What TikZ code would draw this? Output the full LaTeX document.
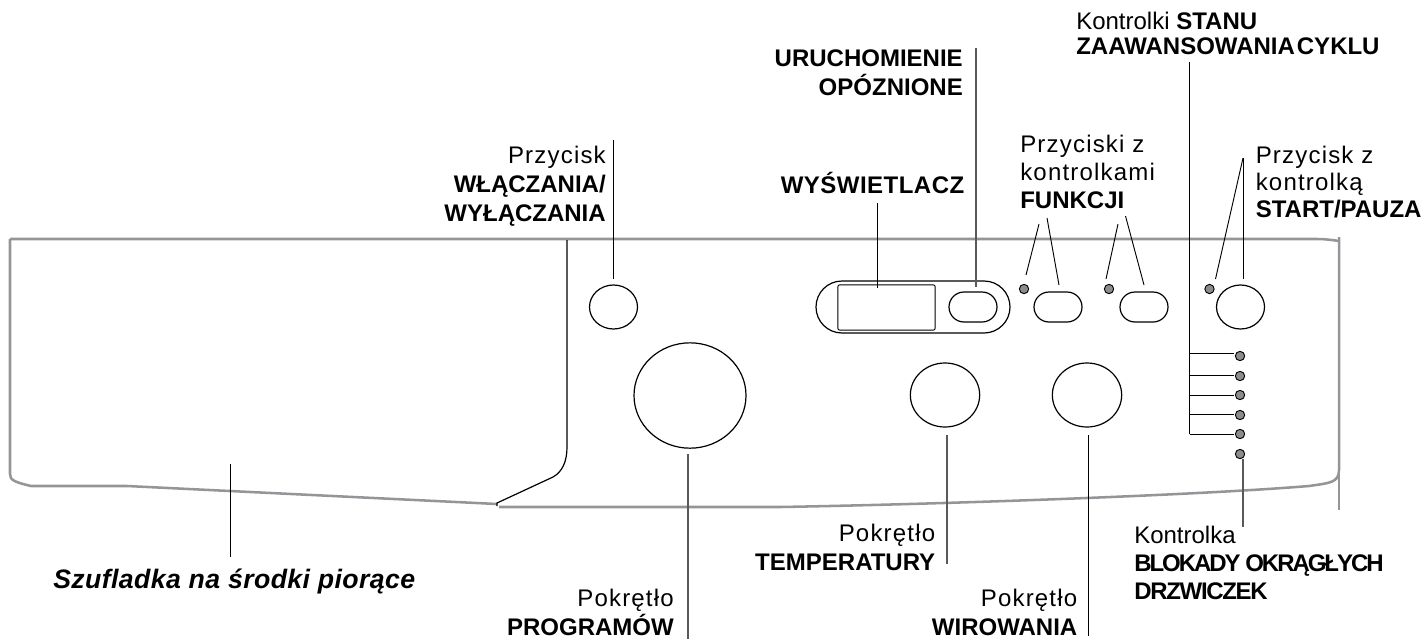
\documentclass[tikz,border=0pt]{standalone}
\usepackage{fontspec}
\setmainfont{Liberation Sans}
\usetikzlibrary{shapes.geometric,shapes.misc}
\definecolor{panelgray}{HTML}{939598}
\definecolor{ledgray}{HTML}{8A8C8E}
\newcommand{\wide}[1]{{\addfontfeature{LetterSpace=5}#1}}
\newcommand{\tight}[2]{\textbf{\addfontfeature{LetterSpace=#1}#2}}
\tikzset{
  every node/.style={align=center},
  panel/.style={panelgray, line width=1.9pt, line join=round},
  knob/.style={draw, ellipse, line width=0.9pt, inner sep=0pt},
  pill/.style={draw, rounded rectangle, line width=0.9pt, inner sep=0pt, minimum width=36pt, minimum height=22.5pt},
  led/.style={draw, circle, fill=ledgray, line width=0.7pt, inner sep=0pt, minimum size=7pt},
  lead/.style={line width=0.7pt},
  leadsoft/.style={black!65, line width=0.9pt},
  lbl/.style={font=\fontsize{18pt}{21.5pt}\selectfont, inner sep=0pt},
}
\begin{document}
\begin{tikzpicture}[x=0.75pt, y=-0.75pt]
    \useasboundingbox (0,0) rectangle (1423,639);

    % panel outline
    \draw[panel] (10,239) -- (10,474) .. controls (10,480) and (14,482) .. (31,486)
        -- (127,486) -- (497,504);
    \draw[panel] (10,239) -- (1317,239) .. controls (1325,239) and (1332,240) .. (1339,241);
    \draw[panel] (499,507) -- (780,507) .. controls (950,504) and (1200,495) .. (1309,486)
        .. controls (1329,483) and (1339,483) .. (1339,470) -- (1339,237);
    \draw[panelgray, line width=0.8pt] (1339,470) -- (1339,510);
    % drawer edge
    \draw[line width=0.9pt] (567,240) -- (567,447) .. controls (567,462) and (562,472) .. (553,477)
        -- (497,503) -- (497,506);

    % controls
    \node[knob, minimum width=36pt, minimum height=33pt] (power) at (613.5,307) {};
    \node[knob, minimum width=84pt, minimum height=79pt] (programs) at (690,395.5) {};
    \node[draw, rounded rectangle, line width=0.9pt, inner sep=0pt, minimum width=145.5pt, minimum height=39pt] (dispframe) at (913,307) {};
    \node[draw, rounded corners=1.5pt, line width=0.7pt, inner sep=0pt, minimum width=73pt, minimum height=34pt] (display) at (886.5,307.5) {};
    \node[pill] (delay) at (973,307) {};
    \node[pill] (funcA) at (1058,307) {};
    \node[pill] (funcB) at (1144,307) {};
    \node[knob, minimum width=36pt, minimum height=33pt] (start) at (1240.5,307) {};
    \node[knob, minimum width=52pt, minimum height=48pt] (temp) at (945,395) {};
    \node[knob, minimum width=52pt, minimum height=48pt] (spin) at (1087,395) {};
    \node[led] (ledA) at (1024,289) {};
    \node[led] (ledB) at (1109,289) {};
    \node[led] (ledS) at (1209.5,289) {};
    \foreach \n/\y in {1/356,2/376,3/395,4/415,5/434,6/454}
        \node[led] (cycle\n) at (1240,\y) {};

    % labels
    \node[lbl, anchor=base east, align=right] (lbDelay) at (963,95) {\textbf{URUCHOMIENIE}\\\textbf{OPÓZNIONE}};
    \node[lbl, anchor=base east, align=right] (lbDisp) at (965,193) {\tight{2}{WYŚWIETLACZ}};
    \node[lbl, anchor=base east, align=right] (lbPower) at (606,221) {\wide{Przycisk}\\\textbf{WŁĄCZANIA/}\\\textbf{WYŁĄCZANIA}};
    \node[lbl, anchor=base west, align=left, font=\fontsize{18pt}{21pt}\selectfont] (lbFunc) at (1020,208) {\wide{Przyciski z}\\\wide{kontrolkami}\\\textbf{FUNKCJI}};
    \node[lbl, anchor=base west, align=left, font=\fontsize{18pt}{20.2pt}\selectfont] (lbStart) at (1255.5,217) {\wide{Przycisk z}\\\wide{kontrolką}\\\textbf{START/PAUZA}};
    \node[lbl, anchor=base west, align=left, font=\fontsize{18pt}{18.4pt}\selectfont] (lbCycle) at (1076,54) {Kontrolki \textbf{STANU}\\\textbf{ZAAWANSOWANIA\hspace{-3.5pt} CYKLU}};
    \node[lbl, anchor=base east, align=right] (lbTemp) at (935.5,570) {\wide{Pokrętło}\\\textbf{TEMPERATURY}};
    \node[lbl, anchor=base east, align=right] (lbProg) at (674,635) {\wide{Pokrętło}\\\textbf{PROGRAMÓW}};
    \node[lbl, anchor=base east, align=right] (lbSpin) at (1077.5,635) {\wide{Pokrętło}\\\textbf{WIROWANIA}};
    \node[lbl, anchor=base west, align=left, font=\fontsize{18pt}{21pt}\selectfont] (lbLock) at (1134,599) {Kontrolka\\\tight{-8.5}{BLOKADY OKRĄGŁYCH}\\\tight{-5.5}{DRZWICZEK}};
    \node[lbl, anchor=base west, font=\fontsize{20pt}{21pt}\selectfont] (lbDrawer) at (53,588) {\textit{\textbf{\addfontfeature{LetterSpace=1.5}Szufladka na środki piorące}}};

    % leaders
    \coordinate (tipPower) at (613.5,140);
    \coordinate (tipDisp) at (877.5,203);
    \coordinate (tipDelay) at (976,48);
    \coordinate (tipCycle) at (1189.5,62);
    \coordinate (tipCycleEnd) at (1189.5,434);
    \coordinate (tipFuncAl) at (1039,224);
    \coordinate (tipFuncAr) at (1047,218);
    \coordinate (tipFuncBl) at (1118,224);
    \coordinate (tipFuncBr) at (1125.5,216);
    \coordinate (tipStart) at (1243,158);
    \coordinate (tipDrawerA) at (230.5,464);
    \coordinate (tipDrawerB) at (230.5,557);
    \coordinate (tipProg) at (688,639);
    \coordinate (tipTemp) at (947,564);
    \coordinate (tipSpin) at (1088.5,636);
    \coordinate (tipLock) at (1243,527);
    \draw[lead] (tipPower) -- (613.5,279);
    \draw[lead] (tipDisp) -- (877.5,288);
    \draw[leadsoft] (tipDelay) -- (976,287);
    \draw[lead] (tipCycle) -- (tipCycleEnd);
    \draw[lead] (tipFuncAl) -- (1026,275);
    \draw[lead] (tipFuncAr) -- (1059,285);
    \draw[lead] (tipFuncBl) -- (1106,279);
    \draw[lead] (tipFuncBr) -- (1144,285);
    \draw[lead] (tipStart) -- (1215.5,279);
    \draw[lead] (tipStart) -- (1243,279);
    \draw[lead] (tipDrawerA) -- (tipDrawerB);
    \draw[leadsoft] (688,454) -- (tipProg);
    \draw[leadsoft] (947,435) -- (tipTemp);
    \draw[lead] (1088.5,435) -- (tipSpin);
    \draw[leadsoft] (1243,459) -- (tipLock);
    \foreach \n/\y in {1/353,2/375,3/395,4/414,5/434}
        \draw[lead] (1189.5,\y) -- (1234,\y);
\end{tikzpicture}
\end{document}
